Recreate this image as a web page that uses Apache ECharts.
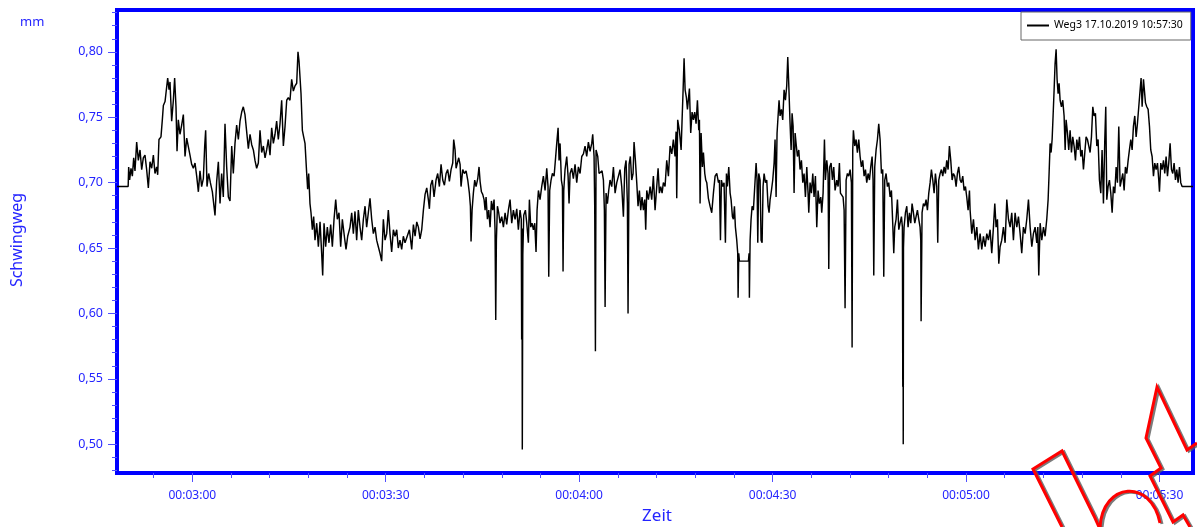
<!DOCTYPE html>
<html>
<head>
<meta charset="utf-8">
<script src="https://cdn.jsdelivr.net/npm/echarts@6/dist/echarts.min.js"></script>
<style>
html,body{margin:0;padding:0;background:#fff;}
#chart{width:1197px;height:527px;}
</style>
</head>
<body>
<div id="chart"></div>
<script>
// ---- data (time in seconds, Schwingweg in mm) ----
const seriesName = 'Weg3 17.10.2019 10:57:30';
const timeLabelTicks = [180, 210, 240, 270, 300, 330];
const timeMinorTicks = [174, 180, 186, 192, 198, 204, 210, 216, 222, 228, 234, 240, 246, 252, 258, 264, 270, 276, 282, 288, 294, 300, 306, 312, 318, 324, 330];
const valueLabelTicks = [0.50, 0.55, 0.60, 0.65, 0.70, 0.75, 0.80];
const valueMinorTicks = [0.48, 0.49, 0.50, 0.51, 0.52, 0.53, 0.54, 0.55, 0.56, 0.57, 0.58, 0.59, 0.60, 0.61, 0.62, 0.63, 0.64, 0.65, 0.66, 0.67, 0.68, 0.69, 0.70, 0.71, 0.72, 0.73, 0.74, 0.75, 0.76, 0.77, 0.78, 0.79, 0.80, 0.81, 0.82, 0.83];

const weg3Part1 = [[168.32,0.697],[170.05,0.697],[170.13,0.712],[170.28,0.702],[170.49,0.711],[170.70,0.705],[170.91,0.719],[171.11,0.709],[171.37,0.731],[171.63,0.717],[171.89,0.725],[172.15,0.710],[172.40,0.719],[172.66,0.721],[172.92,0.710],[173.18,0.696],[173.44,0.716],[173.70,0.711],[173.96,0.721],[174.21,0.707],[174.47,0.712],[174.63,0.706],[174.83,0.733],[175.14,0.735],[175.35,0.748],[175.51,0.759],[175.77,0.762],[176.02,0.763],[176.18,0.780],[176.39,0.771],[176.54,0.777],[176.80,0.747],[177.06,0.763],[177.26,0.780],[177.47,0.758],[177.63,0.724],[177.83,0.748],[178.09,0.737],[178.35,0.744],[178.61,0.752],[178.87,0.720],[179.13,0.734],[179.38,0.733],[179.64,0.721],[179.90,0.714],[180.16,0.711],[180.42,0.715],[180.68,0.705],[180.94,0.693],[181.19,0.709],[181.45,0.697],[181.71,0.703],[181.92,0.728],[182.07,0.740],[182.28,0.697],[182.54,0.707],[182.80,0.700],[183.11,0.693],[183.52,0.675],[183.78,0.701],[184.04,0.716],[184.30,0.684],[184.55,0.707],[184.81,0.689],[185.07,0.745],[185.33,0.712],[185.59,0.689],[185.85,0.686],[186.11,0.728],[186.36,0.707],[186.62,0.730],[186.88,0.744],[187.14,0.733],[187.40,0.747],[187.66,0.754],[187.91,0.758],[188.17,0.752],[188.43,0.739],[188.69,0.726],[188.95,0.737],[189.21,0.729],[189.47,0.725],[189.72,0.717],[189.98,0.711],[190.24,0.715],[190.50,0.740],[190.76,0.723],[191.02,0.728],[191.28,0.719],[191.53,0.725],[191.79,0.733],[192.05,0.721],[192.31,0.742],[192.57,0.730],[192.83,0.737],[193.08,0.747],[193.34,0.733],[193.60,0.745],[193.86,0.763],[194.12,0.728],[194.38,0.743],[194.64,0.763],[194.89,0.765],[195.15,0.763],[195.41,0.779],[195.67,0.770],[195.93,0.774],[196.19,0.776],[196.39,0.800],[196.55,0.793],[196.70,0.794],[196.86,0.768],[197.07,0.740],[197.27,0.735],[197.48,0.730],[197.74,0.707],[197.89,0.695],[198.05,0.707],[198.25,0.684],[198.41,0.677],[198.62,0.664],[198.82,0.674],[199.03,0.656],[199.29,0.669],[199.55,0.651],[199.81,0.670],[200.06,0.646],[200.22,0.629],[200.43,0.669],[200.68,0.651],[200.94,0.666],[201.20,0.654],[201.46,0.668],[201.72,0.651],[201.98,0.672],[202.24,0.687],[202.49,0.672],[202.75,0.677],[203.01,0.651],[203.27,0.672],[203.58,0.659],[203.84,0.649],[204.10,0.659],[204.46,0.666],[204.72,0.677],[204.98,0.661],[205.23,0.678],[205.49,0.656],[205.75,0.679],[206.01,0.666],[206.27,0.656],[206.53,0.672],[206.79,0.682],[207.04,0.666],[207.30,0.677],[207.56,0.688],[207.82,0.672],[208.08,0.661],[208.34,0.666],[208.59,0.656],[208.85,0.651],[209.11,0.646],[209.37,0.640],[209.63,0.672],[209.89,0.656],[210.15,0.661],[210.40,0.679],[210.66,0.661],[210.92,0.647],[211.18,0.664],[211.44,0.659],[211.70,0.664],[211.95,0.650],[212.21,0.656],[212.47,0.649],[212.73,0.659],[212.99,0.654]];

const weg3Part2 = [[213.25,0.654],[213.67,0.664],[214.03,0.649],[214.29,0.668],[214.55,0.659],[214.81,0.670],[215.06,0.666],[215.32,0.657],[215.58,0.664],[215.84,0.679],[216.10,0.691],[216.36,0.696],[216.61,0.687],[216.77,0.680],[216.98,0.698],[217.23,0.702],[217.49,0.689],[217.80,0.702],[218.06,0.707],[218.32,0.697],[218.58,0.714],[218.84,0.702],[219.10,0.698],[219.36,0.707],[219.61,0.710],[219.87,0.701],[220.13,0.710],[220.39,0.715],[220.54,0.733],[220.75,0.725],[220.91,0.711],[221.11,0.715],[221.32,0.719],[221.53,0.714],[221.68,0.697],[221.94,0.710],[222.20,0.707],[222.46,0.709],[222.72,0.702],[222.97,0.692],[223.13,0.682],[223.23,0.655],[223.39,0.679],[223.59,0.692],[223.80,0.702],[224.01,0.697],[224.27,0.703],[224.47,0.712],[224.63,0.701],[224.84,0.693],[225.04,0.691],[225.25,0.687],[225.41,0.679],[225.56,0.689],[225.77,0.672],[225.97,0.679],[226.18,0.666],[226.39,0.686],[226.59,0.679],[226.80,0.687],[226.95,0.664],[227.06,0.595],[227.16,0.656],[227.32,0.682],[227.52,0.677],[227.73,0.669],[227.99,0.674],[228.25,0.666],[228.51,0.677],[228.76,0.668],[229.02,0.679],[229.28,0.687],[229.54,0.669],[229.80,0.679],[230.06,0.672],[230.32,0.680],[230.57,0.664],[230.83,0.679],[231.02,0.672],[231.08,0.580],[231.13,0.665],[231.18,0.496],[231.26,0.645],[231.40,0.675],[231.66,0.679],[231.87,0.669],[232.12,0.654],[232.28,0.687],[232.49,0.666],[232.69,0.669],[232.90,0.664],[233.11,0.669],[233.31,0.647],[233.47,0.679],[233.68,0.694],[233.93,0.687],[234.19,0.697],[234.45,0.705],[234.71,0.694],[234.97,0.711],[235.17,0.697],[235.28,0.628],[235.43,0.694],[235.64,0.702],[235.85,0.707],[236.11,0.705],[236.31,0.717],[236.52,0.730],[236.73,0.742],[236.88,0.717],[237.04,0.730],[237.24,0.702],[237.40,0.697],[237.50,0.632],[237.61,0.694],[237.81,0.710],[238.07,0.720],[238.28,0.705],[238.43,0.684],[238.59,0.707],[238.85,0.711],[239.10,0.703],[239.36,0.714],[239.62,0.700],[239.88,0.712],[240.14,0.707],[240.40,0.720],[240.66,0.722],[240.91,0.728],[241.17,0.720],[241.43,0.731],[241.69,0.724],[241.95,0.730],[242.10,0.737],[242.31,0.720],[242.41,0.682],[242.52,0.571],[242.62,0.725],[242.88,0.720],[243.09,0.707],[243.34,0.706],[243.55,0.709],[243.76,0.702],[243.91,0.679],[244.02,0.605],[244.17,0.692],[244.38,0.684],[244.58,0.694],[244.79,0.702],[245.05,0.697],[245.31,0.712],[245.57,0.692],[245.83,0.700],[246.09,0.705],[246.34,0.710],[246.60,0.697],[246.86,0.674],[247.07,0.711],[247.27,0.717],[247.48,0.684],[247.58,0.600],[247.74,0.714],[247.94,0.720],[248.15,0.702],[248.36,0.707],[248.51,0.731],[248.72,0.717],[248.93,0.700],[249.13,0.682],[249.34,0.694],[249.55,0.679],[249.75,0.689],[249.96,0.679],[250.17,0.687],[250.32,0.664],[250.48,0.694],[250.74,0.687],[251.00,0.697],[251.25,0.687],[251.51,0.705],[251.77,0.679],[252.03,0.697],[252.24,0.711],[252.44,0.692],[252.65,0.697],[252.86,0.692],[253.06,0.700],[253.32,0.697],[253.58,0.717],[253.84,0.705],[254.10,0.728],[254.36,0.722],[254.61,0.733],[254.87,0.720],[255.03,0.739],[255.13,0.688],[255.28,0.748],[255.54,0.740]];

const weg3Part3 = [[255.81,0.725],[255.96,0.748],[256.12,0.771],[256.27,0.795],[256.43,0.771],[256.63,0.765],[256.79,0.756],[257.10,0.772],[257.30,0.738],[257.51,0.754],[257.72,0.748],[257.92,0.754],[258.13,0.745],[258.34,0.763],[258.55,0.740],[258.65,0.748],[258.75,0.684],[258.91,0.738],[259.11,0.712],[259.27,0.723],[259.48,0.707],[259.63,0.702],[259.79,0.700],[260.04,0.688],[260.30,0.682],[260.56,0.677],[260.82,0.692],[261.08,0.705],[261.34,0.707],[261.60,0.700],[261.75,0.702],[261.91,0.656],[262.06,0.702],[262.27,0.697],[262.47,0.700],[262.68,0.654],[262.84,0.707],[262.99,0.697],[263.20,0.712],[263.41,0.692],[263.56,0.687],[263.77,0.674],[263.92,0.672],[264.08,0.682],[264.23,0.666],[264.44,0.656],[264.59,0.646],[264.65,0.612],[264.75,0.646],[264.85,0.640],[266.25,0.640],[266.35,0.646],[266.40,0.612],[266.51,0.656],[266.66,0.672],[266.82,0.682],[267.02,0.679],[267.23,0.697],[267.44,0.715],[267.59,0.702],[267.70,0.654],[267.85,0.707],[268.06,0.702],[268.21,0.656],[268.37,0.654],[268.52,0.697],[268.68,0.707],[268.89,0.700],[269.09,0.702],[269.30,0.682],[269.45,0.677],[269.61,0.687],[269.82,0.694],[270.02,0.702],[270.23,0.715],[270.38,0.733],[270.54,0.689],[270.69,0.738],[270.85,0.751],[271.00,0.763],[271.16,0.751],[271.37,0.756],[271.57,0.748],[271.78,0.771],[271.99,0.763],[272.19,0.774],[272.35,0.796],[272.50,0.776],[272.71,0.745],[272.87,0.725],[273.02,0.753],[273.18,0.743],[273.33,0.692],[273.49,0.738],[273.64,0.730],[273.85,0.720],[274.06,0.725],[274.26,0.710],[274.47,0.717],[274.68,0.700],[274.88,0.707],[275.09,0.689],[275.30,0.712],[275.50,0.692],[275.61,0.677],[275.81,0.700],[276.02,0.692],[276.23,0.707],[276.43,0.689],[276.64,0.705],[276.85,0.666],[277.05,0.694],[277.26,0.684],[277.47,0.689],[277.62,0.677],[277.83,0.692],[278.04,0.733],[278.19,0.702],[278.40,0.717],[278.60,0.707],[278.71,0.634],[278.86,0.712],[279.07,0.715],[279.28,0.702],[279.48,0.712],[279.69,0.694],[279.95,0.702],[280.16,0.697],[280.36,0.715],[280.52,0.692],[280.72,0.692],[280.93,0.689],[281.09,0.679],[281.24,0.604],[281.40,0.702],[281.60,0.707],[281.81,0.705],[282.02,0.710],[282.22,0.700],[282.33,0.574],[282.43,0.725],[282.53,0.740],[282.74,0.728],[282.95,0.733],[283.15,0.723],[283.36,0.733],[283.57,0.720],[283.77,0.712],[283.98,0.717],[284.19,0.705],[284.40,0.710],[284.60,0.700],[284.81,0.707],[285.02,0.702],[285.22,0.712],[285.43,0.720],[285.58,0.702],[285.69,0.629],[285.84,0.712],[286.05,0.725],[286.26,0.733],[286.46,0.745],[286.67,0.733],[286.88,0.707],[287.08,0.710],[287.24,0.628],[287.39,0.702],[287.60,0.707],[287.81,0.697],[288.01,0.700],[288.22,0.689],[288.43,0.694],[288.63,0.669],[288.79,0.646],[288.94,0.666],[289.15,0.672],[289.36,0.687],[289.57,0.664],[289.77,0.669],[289.98,0.674],[290.13,0.666],[290.19,0.544],[290.22,0.660],[290.26,0.500],[290.30,0.650],[290.39,0.666],[290.60,0.677],[290.81,0.682],[291.01,0.666],[291.22,0.677],[291.43,0.669],[291.63,0.684],[291.84,0.677],[292.05,0.669],[292.25,0.674],[292.46,0.679],[292.67,0.672],[292.87,0.666],[292.98,0.656],[293.03,0.594],[293.18,0.677],[293.39,0.684],[293.60,0.682],[293.80,0.687],[294.01,0.679],[294.22,0.692],[294.43,0.700],[294.63,0.710],[294.84,0.702],[295.05,0.692],[295.25,0.707],[295.46,0.697],[295.61,0.654],[295.77,0.702],[295.98,0.707],[296.18,0.710],[296.39,0.705],[296.60,0.712],[296.80,0.707],[297.01,0.717],[297.22,0.710],[297.42,0.728],[297.63,0.717],[297.84,0.702],[298.04,0.707],[298.25,0.705],[298.46,0.697],[298.66,0.707],[298.87,0.712],[299.08,0.702],[299.28,0.700],[299.49,0.705],[299.70,0.694],[299.91,0.697],[300.11,0.689],[300.32,0.679],[300.53,0.694]];

const weg3Part4 = [[300.63,0.679],[300.89,0.661],[301.15,0.672],[301.41,0.656],[301.67,0.666],[301.92,0.649],[302.18,0.661],[302.44,0.649],[302.70,0.659],[302.96,0.651],[303.22,0.661],[303.47,0.656],[303.73,0.664],[303.99,0.646],[304.25,0.666],[304.46,0.684],[304.66,0.666],[304.87,0.672],[305.08,0.638],[305.28,0.651],[305.54,0.656],[305.80,0.666],[306.06,0.654],[306.32,0.687],[306.58,0.672],[306.84,0.666],[307.09,0.677],[307.35,0.656],[307.61,0.677],[307.87,0.666],[308.13,0.674],[308.39,0.661],[308.64,0.646],[308.90,0.666],[309.16,0.661],[309.42,0.672],[309.68,0.687],[309.94,0.666],[310.20,0.651],[310.45,0.661],[310.71,0.666],[310.97,0.654],[311.13,0.666],[311.28,0.629],[311.49,0.669],[311.75,0.656],[312.01,0.666],[312.26,0.659],[312.52,0.672],[312.73,0.687],[312.88,0.707],[313.04,0.730],[313.19,0.723],[313.35,0.733],[313.50,0.751],[313.66,0.771],[313.81,0.791],[313.97,0.802],[314.12,0.779],[314.28,0.768],[314.43,0.776],[314.59,0.763],[314.80,0.758],[315.00,0.763],[315.21,0.751],[315.37,0.725],[315.52,0.748],[315.73,0.738],[315.93,0.725],[316.14,0.740],[316.35,0.723],[316.55,0.735],[316.76,0.728],[316.97,0.717],[317.18,0.733],[317.38,0.725],[317.59,0.735],[317.80,0.720],[318.00,0.725],[318.21,0.710],[318.42,0.723],[318.62,0.735],[318.83,0.733],[319.04,0.728],[319.24,0.723],[319.45,0.735],[319.66,0.758],[319.86,0.751],[320.07,0.753],[320.28,0.728],[320.48,0.733],[320.69,0.702],[320.90,0.692],[321.10,0.725],[321.31,0.684],[321.52,0.733],[321.67,0.758],[321.83,0.687],[322.03,0.697],[322.24,0.702],[322.45,0.692],[322.66,0.677],[322.86,0.697],[323.07,0.692],[323.28,0.712],[323.48,0.700],[323.69,0.743],[323.90,0.697],[324.10,0.702],[324.31,0.707],[324.52,0.694],[324.72,0.712],[324.93,0.707],[325.14,0.717],[325.34,0.725],[325.55,0.733],[325.76,0.725],[325.96,0.743],[326.17,0.751],[326.38,0.735],[326.58,0.745],[326.79,0.758],[327.00,0.771],[327.15,0.780],[327.31,0.758],[327.52,0.779],[327.67,0.779],[327.83,0.761],[328.03,0.758],[328.24,0.756],[328.45,0.743],[328.65,0.725],[328.86,0.720],[329.07,0.705],[329.27,0.715],[329.48,0.710],[329.69,0.715],[329.89,0.702],[330.00,0.693],[330.20,0.715],[330.41,0.710],[330.62,0.717],[330.82,0.707],[331.03,0.720],[331.24,0.705],[331.44,0.715],[331.65,0.730],[331.86,0.710],[332.06,0.707],[332.27,0.715],[332.48,0.702],[332.68,0.710],[332.89,0.700],[333.10,0.712],[333.30,0.700],[333.51,0.697],[335.20,0.697]];

const weg3 = weg3Part1.concat(weg3Part2, weg3Part3, weg3Part4);

// ---- chart ----
const BLUE = '#0000ff';
const LABEL_BLUE = '#2424ff';
const TICK_BLUE = '#5050ff';
const FONT = '"Noto Sans", "Open Sans", sans-serif';

function fmtTime(s) {
  const m = Math.floor(s / 60), sec = Math.round(s - m * 60);
  return '00:' + String(m).padStart(2, '0') + ':' + String(sec).padStart(2, '0');
}

const chart = echarts.init(document.getElementById('chart'), null, {renderer: 'canvas'});
chart.setOption({
  animation: false,
  backgroundColor: '#ffffff',
  grid: {left: 117, right: 4, top: 10, bottom: 54, show: true, borderColor: BLUE, borderWidth: 4, backgroundColor: 'transparent'},
  legend: {
    data: [seriesName], left: 1021, top: 12, padding: [8, 8, 9, 6], itemWidth: 22, itemHeight: 2, icon: 'rect', itemGap: 0,
    borderColor: '#666', borderWidth: 1, backgroundColor: '#fff', borderRadius: 0,
    textStyle: {fontFamily: FONT, fontSize: 10.5, color: '#000', padding: [0, 0, 0, 0]}
  },
  xAxis: [
    {type: 'value', min: 168.32, max: 335.2, position: 'bottom', splitLine: {show: false},
     axisLine: {show: true, onZero: false, lineStyle: {color: BLUE, width: 4}},
     axisTick: {show: true, length: 9, customValues: timeLabelTicks, lineStyle: {color: TICK_BLUE, width: 1}},
     axisLabel: {customValues: timeLabelTicks, formatter: fmtTime, margin: 17, color: LABEL_BLUE, fontFamily: FONT, fontSize: 12}},
    {type: 'value', min: 168.32, max: 335.2, position: 'bottom', offset: 0, splitLine: {show: false},
     axisLine: {show: false, onZero: false},
     axisTick: {show: true, length: 5, customValues: timeMinorTicks, lineStyle: {color: TICK_BLUE, width: 1}},
     axisLabel: {show: false}}
  ],
  yAxis: [
    {type: 'value', min: 0.478, max: 0.832, position: 'left', splitLine: {show: false},
     axisLine: {show: true, onZero: false, lineStyle: {color: BLUE, width: 4}},
     axisTick: {show: true, length: 9, customValues: valueLabelTicks, lineStyle: {color: TICK_BLUE, width: 1}},
     axisLabel: {customValues: valueLabelTicks, formatter: v => v.toFixed(2).replace('.', ','), margin: 14, color: LABEL_BLUE, fontFamily: FONT, fontSize: 12.5}},
    {type: 'value', min: 0.478, max: 0.832, position: 'left', offset: 0, splitLine: {show: false},
     axisLine: {show: false, onZero: false},
     axisTick: {show: true, length: 5, customValues: valueMinorTicks, lineStyle: {color: TICK_BLUE, width: 1}},
     axisLabel: {show: false}}
  ],
  series: [{
    name: seriesName, type: 'line', xAxisIndex: 0, yAxisIndex: 0, data: weg3,
    showSymbol: false, symbol: 'none', sampling: false, color: '#000',
    lineStyle: {color: '#000', width: 1.45}, z: 3
  }],
  graphic: [
    {type: 'text', left: 20, top: 16, style: {text: 'mm', fill: LABEL_BLUE, font: '13px ' + FONT}},
    {type: 'text', x: 17, y: 240, rotation: Math.PI / 2, style: {text: 'Schwingweg', fill: LABEL_BLUE, font: '16px ' + FONT, textAlign: 'center', textVerticalAlign: 'middle'}},
    {type: 'text', x: 657, y: 516, style: {text: 'Zeit', fill: LABEL_BLUE, font: '17px ' + FONT, textAlign: 'center', textVerticalAlign: 'middle'}},
    {type: 'polyline', z: 100, shape: {points: [[1062,527],[1033,469],[1062,451],[1094,516],[1099,527]]},
     style: {stroke: '#ff0000', lineWidth: 3, fill: null, shadowColor: 'rgba(90,90,90,0.8)', shadowOffsetX: 2, shadowOffsetY: 1, shadowBlur: 0}},
    {type: 'bezierCurve', z: 100, shape: {x1: 1100, y1: 527, cpx1: 1103, cpy1: 482, cpx2: 1151, cpy2: 478, x2: 1160, y2: 523},
     style: {stroke: '#ff0000', lineWidth: 3, fill: null, shadowColor: 'rgba(90,90,90,0.8)', shadowOffsetX: 2, shadowOffsetY: 1, shadowBlur: 0}},
    {type: 'polyline', z: 100, shape: {points: [[1190,527],[1183,515],[1173,522],[1150,476],[1161,468],[1146,438],[1157,387],[1187,450],[1197,443]]},
     style: {stroke: '#ff0000', lineWidth: 3, fill: null, shadowColor: 'rgba(90,90,90,0.8)', shadowOffsetX: 2, shadowOffsetY: 1, shadowBlur: 0}}
  ]
});
</script>
</body>
</html>
